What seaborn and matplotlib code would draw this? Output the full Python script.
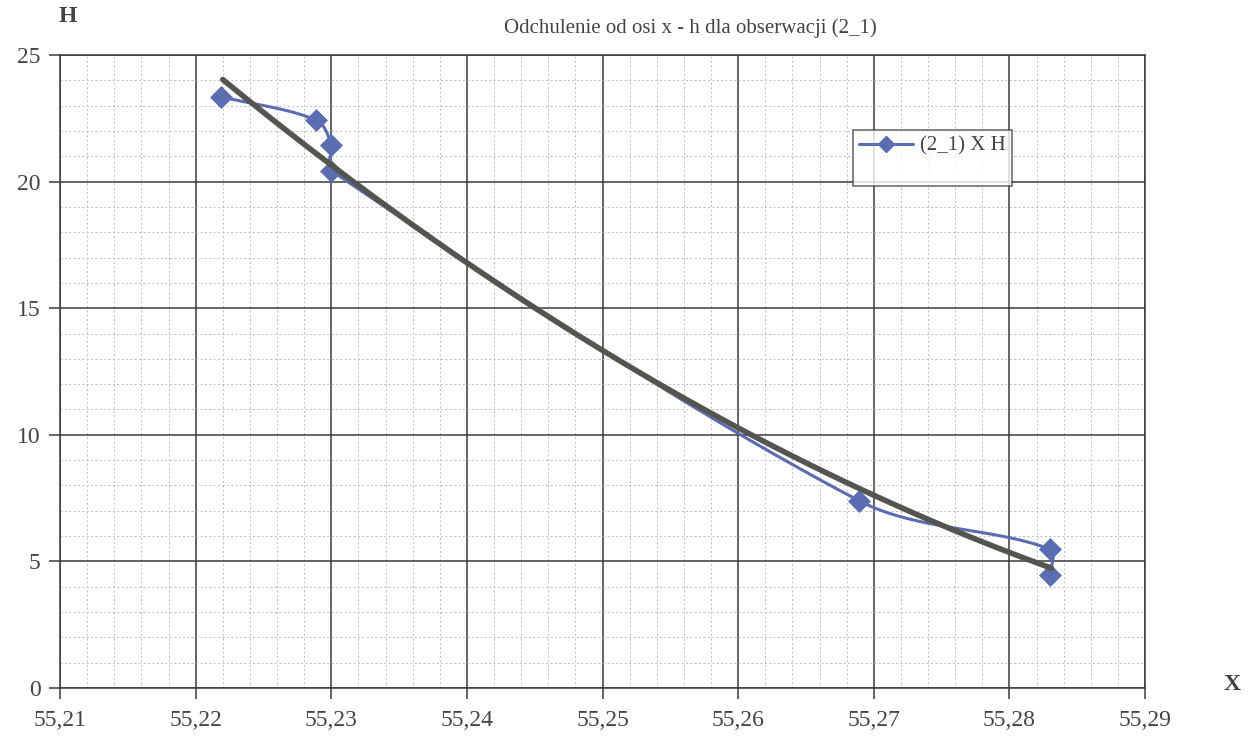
import numpy as np
import pandas as pd
import matplotlib
matplotlib.use("Agg")
import matplotlib.pyplot as plt
import seaborn as sns
from matplotlib.ticker import MultipleLocator, FuncFormatter
from matplotlib.lines import Line2D

# ---- data ----
x_obs = [55.2219, 55.2289, 55.2300, 55.2300, 55.2689, 55.2830, 55.2830]
h_obs = [23.35, 22.42, 21.45, 20.43, 7.40, 5.48, 4.45]
# points read along the (curved) trend line
trend_x = [55.2220, 55.2309, 55.2453, 55.2612, 55.2831]
trend_h = [24.2, 20.0, 15.0, 10.0, 4.7]
x_ticks = [55.21, 55.22, 55.23, 55.24, 55.25, 55.26, 55.27, 55.28, 55.29]
y_ticks = [0, 5, 10, 15, 20, 25]
series_label = "(2_1) X H"
title = "Odchulenie od osi x - h dla obserwacji (2_1)"

sns.set_theme(style="white")
plt.rcParams["font.family"] = ["Liberation Serif", "DejaVu Serif"]

W, H = 1249, 743
fig = plt.figure(figsize=(W / 100, H / 100), dpi=100)
L, R, T, B = 60, 1145, 55, 688
ax = fig.add_axes([L / W, 1 - B / H, (R - L) / W, (B - T) / H])

xmin, xmax, ymin, ymax = 55.21, 55.29, 0, 25
ax.set_xlim(xmin, xmax)
ax.set_ylim(ymin, ymax)

# smoothed line (Excel-like Bezier smoothing, done in screen space)
sx = (R - L) / (xmax - xmin)
sy = (B - T) / (ymax - ymin)
P = np.column_stack([(np.array(x_obs) - xmin) * sx, np.array(h_obs) * sy])
Pe = np.vstack([P[0], P, P[-1]])
curve = []
for i in range(1, len(Pe) - 2):
    p0, p1, p2, p3 = Pe[i - 1], Pe[i], Pe[i + 1], Pe[i + 2]
    d01 = np.linalg.norm(p1 - p0)
    d12 = np.linalg.norm(p2 - p1)
    d23 = np.linalg.norm(p3 - p2)
    c1 = p1 + (p2 - p0) * (d12 / max(d01 + d12, 1e-9)) / 3
    c2 = p2 - (p3 - p1) * (d12 / max(d12 + d23, 1e-9)) / 3
    t = np.linspace(0, 1, 60)[:, None]
    seg = (1 - t) ** 3 * p1 + 3 * (1 - t) ** 2 * t * c1 + 3 * (1 - t) * t ** 2 * c2 + t ** 3 * p2
    curve.append(seg if i == 1 else seg[1:])
curve = np.vstack(curve)
smooth = pd.DataFrame({"X": curve[:, 0] / sx + xmin, "H": curve[:, 1] / sy})

# trend line: quadratic through the read trend points
coef = np.polyfit(np.array(trend_x) - xmin, trend_h, 2)
tx = np.linspace(trend_x[0], trend_x[-1], 200)
trend = pd.DataFrame({"X": tx, "H": np.polyval(coef, tx - xmin)})

blue = "#5a6db2"
gray = "#55554f"

# grid
ax.xaxis.set_major_locator(MultipleLocator(0.01))
ax.xaxis.set_minor_locator(MultipleLocator(0.002))
ax.yaxis.set_major_locator(MultipleLocator(5))
ax.yaxis.set_minor_locator(MultipleLocator(1))
ax.grid(which="minor", color="#bdbdbd", linestyle=(0, (2, 2.5)), linewidth=0.7)
ax.grid(which="major", color="#3a3a3a", linestyle="-", linewidth=1.1)
ax.set_axisbelow(True)

sns.lineplot(data=smooth, x="X", y="H", sort=False, estimator=None, color=blue,
             linewidth=2.2, ax=ax, zorder=3)
sns.scatterplot(x=x_obs, y=h_obs, marker="D", s=125, color=blue, edgecolor=blue,
                linewidth=0.5, ax=ax, zorder=4)
sns.lineplot(data=trend, x="X", y="H", color=gray, linewidth=4.0, ax=ax, zorder=5,
             sort=False, estimator=None)

ax.set_xticks(x_ticks)
ax.set_yticks(y_ticks)
ax.xaxis.set_major_formatter(FuncFormatter(lambda v, p: f"{v:.2f}".replace(".", ",")))
ax.yaxis.set_major_formatter(FuncFormatter(lambda v, p: f"{v:.0f}"))
ax.tick_params(axis="x", which="major", direction="out", length=8, width=1.1,
               colors="#3a3a3a", labelsize=17, pad=8, bottom=True)
ax.tick_params(axis="y", which="major", direction="out", length=8, width=1.1,
               colors="#3a3a3a", labelsize=17, pad=6, left=True)
ax.tick_params(which="minor", length=0)
for lab in ax.get_xticklabels() + ax.get_yticklabels():
    lab.set_color("#444444")
for s in ax.spines.values():
    s.set_color("#3a3a3a")
    s.set_linewidth(1.1)
ax.set_xlabel("")
ax.set_ylabel("")

fig.text(68 / W, 1 - 17 / H, "H", fontsize=17, fontweight="bold", color="#444444",
         ha="center", va="center")
fig.text(1232 / W, 1 - 685 / H, "X", fontsize=17, fontweight="bold", color="#444444",
         ha="center", va="center")
fig.text(690 / W, 1 - 28 / H, title, fontsize=15, color="#444444", ha="center", va="center")

h1 = Line2D([], [], color=blue, linewidth=2.2, marker="D", markersize=8)
h2 = Line2D([], [], color="none")
leg = ax.legend([h1, h2], [series_label, " "], loc="upper left",
                bbox_to_anchor=(853 / W, 1 - 130 / H), bbox_transform=fig.transFigure,
                frameon=True, fancybox=False, fontsize=15, handlelength=2.6,
                handletextpad=0.3, borderpad=0.3, labelspacing=0.2, borderaxespad=0)
leg.get_frame().set_edgecolor("#3a3a3a")
leg.get_frame().set_linewidth(1.1)
for t in leg.get_texts():
    t.set_color("#444444")

fig.savefig("out.png", dpi=100, facecolor="white")
